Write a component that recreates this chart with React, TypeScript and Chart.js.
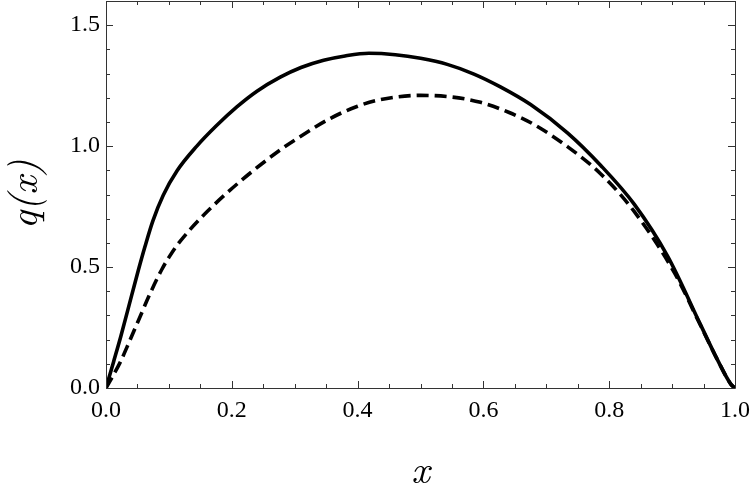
import React, { useEffect, useRef } from "react";
import { Chart, registerables } from "chart.js";

Chart.register(...registerables);

const solidX = [0, 0.012, 0.0234, 0.041, 0.0514, 0.062, 0.0744, 0.091, 0.1135, 0.1444, 0.175, 0.208, 0.24, 0.277, 0.31, 0.346, 0.38, 0.418, 0.46, 0.5, 0.5425, 0.585, 0.627, 0.675, 0.7336, 0.7866, 0.8397, 0.8928, 0.9459, 0.9724, 0.9936, 1];
const solidY = [0, 0.108, 0.212, 0.385, 0.487, 0.585, 0.69, 0.797, 0.9, 1.0, 1.083, 1.162, 1.227, 1.285, 1.325, 1.355, 1.373, 1.384, 1.378, 1.363, 1.338, 1.298, 1.245, 1.172, 1.055, 0.92, 0.76, 0.545, 0.258, 0.115, 0.015, 0];
const dashedX = [0, 0.0223, 0.038, 0.055, 0.07, 0.0887, 0.1, 0.115, 0.1497, 0.1895, 0.2346, 0.28, 0.3, 0.357, 0.4, 0.436, 0.5, 0.55, 0.5955, 0.64, 0.68, 0.7336, 0.7866, 0.8397, 0.9034, 0.9459, 0.9724, 0.9936, 1];
const dashedY = [0, 0.105, 0.197, 0.3, 0.39, 0.49, 0.54, 0.597, 0.7, 0.8, 0.9, 0.99, 1.025, 1.115, 1.165, 1.192, 1.21, 1.203, 1.181, 1.14, 1.09, 0.998, 0.885, 0.73, 0.478, 0.255, 0.115, 0.015, 0];

const xTickLabels = [0, 0.2, 0.4, 0.6, 0.8, 1.0];
const yTickLabels = [0, 0.5, 1.0, 1.5];
const xMinorStep = 0.05;
const yMinorStep = 0.1;
const xTitle = "x";
const yTitle = "q(x)";

const SERIF = "'Liberation Serif', 'Times New Roman', serif";
const MATH = "'Latin Modern Roman', 'Liberation Serif', serif";
const FRAME = "#333";

const framePlugin = {
  id: "frameTicks",
  afterDraw(chart: any) {
    const { ctx, chartArea: a, scales } = chart;
    const xs_ = scales.x;
    const ys_ = scales.y;
    ctx.save();
    ctx.strokeStyle = FRAME;
    ctx.lineWidth = 1;
    ctx.beginPath();
    ctx.rect(Math.round(a.left) + 0.5, Math.round(a.top) + 0.5, Math.round(a.right - a.left), Math.round(a.bottom - a.top));
    ctx.stroke();
    for (let i = 0; i <= Math.round(1 / xMinorStep); i++) {
      const v = i * xMinorStep;
      const major = i % 4 === 0;
      const len = major ? 7 : 4;
      const px = Math.round(xs_.getPixelForValue(v)) + 0.5;
      ctx.beginPath();
      ctx.moveTo(px, a.bottom);
      ctx.lineTo(px, a.bottom - len);
      ctx.moveTo(px, a.top);
      ctx.lineTo(px, a.top + len);
      ctx.stroke();
    }
    for (let i = 0; i <= 16; i++) {
      const v = i * yMinorStep;
      const major = i % 5 === 0;
      const len = major ? 7 : 4;
      const py = Math.round(ys_.getPixelForValue(v)) + 0.5;
      ctx.beginPath();
      ctx.moveTo(a.left, py);
      ctx.lineTo(a.left + len, py);
      ctx.moveTo(a.right, py);
      ctx.lineTo(a.right - len, py);
      ctx.stroke();
    }
    ctx.fillStyle = "#000";
    ctx.font = "italic 40px " + MATH;
    ctx.textAlign = "center";
    ctx.textBaseline = "alphabetic";
    ctx.fillText(xTitle, (a.left + a.right) / 2, 483);
    ctx.save();
    ctx.translate(37, (a.top + a.bottom) / 2);
    ctx.rotate(-Math.PI / 2);
    ctx.fillText(yTitle, 0, 0);
    ctx.restore();
    ctx.restore();
  },
};

const zeroPad = (s: any) => {
  s.paddingTop = 0;
  s.paddingBottom = 0;
  s.paddingLeft = 0;
  s.paddingRight = 0;
};

export default function App() {
  const ref = useRef<HTMLCanvasElement | null>(null);
  useEffect(() => {
    document.body.style.margin = "0";
    const chart = new Chart(ref.current!, {
      type: "line",
      data: {
        datasets: [
          {
            label: "solid",
            data: solidX.map((x, i) => ({ x, y: solidY[i] })),
            borderColor: "#000",
            borderWidth: 3.6,
            pointRadius: 0,
            cubicInterpolationMode: "monotone",
            fill: false,
          },
          {
            label: "dashed",
            data: dashedX.map((x, i) => ({ x, y: dashedY[i] })),
            borderColor: "#000",
            borderWidth: 3.6,
            borderDash: [12, 6],
            pointRadius: 0,
            cubicInterpolationMode: "monotone",
            fill: false,
          },
        ],
      },
      options: {
        animation: false,
        responsive: false,
        maintainAspectRatio: false,
        layout: { padding: { top: 1, right: 15, left: 0, bottom: 0 } },
        plugins: { legend: { display: false }, tooltip: { enabled: false } },
        scales: {
          x: {
            type: "linear",
            min: 0,
            max: 1,
            border: { display: false },
            grid: { display: false, drawTicks: false },
            afterBuildTicks: (s: any) => {
              s.ticks = xTickLabels.map((v) => ({ value: v }));
            },
            afterFit: (s: any) => {
              s.height = 115;
              zeroPad(s);
            },
            ticks: {
              padding: 8,
              color: "#000",
              font: { family: SERIF, size: 24 },
              callback: (v: any) => Number(v).toFixed(1),
              maxRotation: 0,
            },
          },
          y: {
            type: "linear",
            min: 0,
            max: 1.6,
            border: { display: false },
            grid: { display: false, drawTicks: false },
            afterBuildTicks: (s: any) => {
              s.ticks = yTickLabels.map((v) => ({ value: v }));
            },
            afterFit: (s: any) => {
              s.width = 106;
              zeroPad(s);
            },
            ticks: {
              padding: 6,
              color: "#000",
              font: { family: SERIF, size: 24 },
              callback: (v: any) => Number(v).toFixed(1),
            },
          },
        },
      },
      plugins: [framePlugin],
    });
    return () => chart.destroy();
  }, []);
  return (
    <div style={{ position: "absolute", left: 0, top: 0, width: 750, height: 503 }}>
      <canvas ref={ref} width={750} height={503} style={{ width: 750, height: 503 }} />
    </div>
  );
}
